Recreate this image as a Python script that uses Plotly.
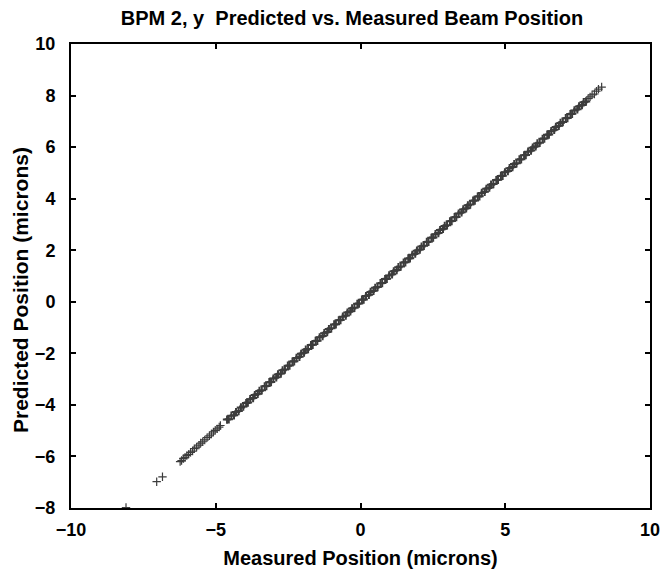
import plotly.graph_objects as go

# Measured (x) and predicted (y) beam positions, microns
# sparse ends of the distribution
measured_sparse = [
    -8.10, -7.04, -6.84,
    -6.23, -6.18, -6.12, -6.06, -6.00, -5.94, -5.87, -5.80, -5.74, -5.66,
    -5.58, -5.52, -5.45, -5.38, -5.30, -5.22, -5.15, -5.08, -5.02, -4.95,
    -4.88, -4.84,
    7.86, 7.93, 8.00, 8.08, 8.15, 8.22, 8.33,
]
predicted_sparse = [
    -7.98, -6.98, -6.79,
    -6.20, -6.16, -6.08, -6.04, -5.97, -5.92, -5.84, -5.79, -5.70, -5.64,
    -5.56, -5.48, -5.43, -5.36, -5.27, -5.20, -5.13, -5.05, -4.99, -4.93,
    -4.86, -4.80,
    7.88, 7.95, 8.03, 8.06, 8.17, 8.25, 8.33,
]
# dense core of the distribution
measured_dense = [
    -4.61, -4.55, -4.46, -4.37, -4.30, -4.21, -4.13, -4.05, -3.95, -3.89,
    -3.81, -3.71, -3.65, -3.55, -3.49, -3.41, -3.31, -3.25, -3.15, -3.09,
    -3.01, -2.91, -2.85, -2.75, -2.69, -2.61, -2.51, -2.45, -2.35, -2.29,
    -2.21, -2.11, -2.05, -1.95, -1.89, -1.81, -1.71, -1.65, -1.55, -1.49,
    -1.41, -1.31, -1.25, -1.15, -1.09, -1.01, -0.91, -0.85, -0.75, -0.69,
    -0.61, -0.51, -0.45, -0.35, -0.29, -0.21, -0.11, -0.05, 0.05, 0.11,
    0.19, 0.29, 0.35, 0.45, 0.51, 0.59, 0.69, 0.75, 0.85, 0.91,
    0.99, 1.09, 1.15, 1.25, 1.31, 1.39, 1.49, 1.55, 1.65, 1.71,
    1.79, 1.89, 1.95, 2.05, 2.11, 2.19, 2.29, 2.35, 2.45, 2.51,
    2.59, 2.69, 2.75, 2.85, 2.91, 2.99, 3.09, 3.15, 3.25, 3.31,
    3.39, 3.49, 3.55, 3.65, 3.71, 3.79, 3.89, 3.95, 4.05, 4.11,
    4.19, 4.29, 4.35, 4.45, 4.51, 4.59, 4.69, 4.75, 4.85, 4.91,
    4.99, 5.09, 5.15, 5.25, 5.31, 5.39, 5.49, 5.55, 5.65, 5.71,
    5.79, 5.89, 5.95, 6.05, 6.11, 6.19, 6.29, 6.35, 6.45, 6.51,
    6.59, 6.69, 6.75, 6.85, 6.91, 6.99, 7.09, 7.15, 7.25, 7.31,
    7.39, 7.49, 7.55, 7.65, 7.71, 7.79,
]
predicted_dense = [
    -4.57, -4.56, -4.42, -4.40, -4.28, -4.24, -4.10, -4.06, -3.93, -3.91,
    -3.78, -3.73, -3.62, -3.57, -3.46, -3.43, -3.28, -3.27, -3.12, -3.11,
    -2.98, -2.93, -2.82, -2.78, -2.66, -2.63, -2.48, -2.47, -2.32, -2.31,
    -2.18, -2.13, -2.02, -1.97, -1.86, -1.83, -1.68, -1.67, -1.52, -1.51,
    -1.38, -1.33, -1.22, -1.17, -1.06, -1.03, -0.88, -0.87, -0.72, -0.71,
    -0.58, -0.53, -0.42, -0.37, -0.26, -0.23, -0.08, -0.07, 0.08, 0.09,
    0.22, 0.27, 0.38, 0.43, 0.54, 0.57, 0.72, 0.73, 0.88, 0.89,
    1.02, 1.07, 1.18, 1.23, 1.34, 1.37, 1.52, 1.53, 1.68, 1.69,
    1.82, 1.87, 1.98, 2.03, 2.14, 2.17, 2.32, 2.33, 2.48, 2.49,
    2.62, 2.67, 2.78, 2.83, 2.94, 2.97, 3.12, 3.13, 3.28, 3.29,
    3.42, 3.47, 3.58, 3.63, 3.74, 3.77, 3.92, 3.93, 4.08, 4.09,
    4.22, 4.27, 4.38, 4.43, 4.54, 4.57, 4.72, 4.73, 4.88, 4.89,
    5.02, 5.07, 5.18, 5.23, 5.34, 5.37, 5.52, 5.53, 5.68, 5.69,
    5.82, 5.87, 5.98, 6.03, 6.14, 6.17, 6.32, 6.33, 6.48, 6.49,
    6.62, 6.67, 6.78, 6.83, 6.94, 6.97, 7.12, 7.13, 7.28, 7.29,
    7.42, 7.47, 7.58, 7.63, 7.74, 7.77,
]

x_ticks = [-10, -5, 0, 5, 10]
y_ticks = [-8, -6, -4, -2, 0, 2, 4, 6, 8, 10]

FONT = "Liberation Sans, Arial, Helvetica, sans-serif"
MARK = "#3c3c3c"

fig = go.Figure()
fig.add_trace(go.Scatter(
    x=measured_dense, y=predicted_dense, mode="markers",
    marker=dict(symbol="cross-thin", size=6, color=MARK,
                line=dict(width=2, color=MARK)),
    showlegend=False, hoverinfo="skip",
))
fig.add_trace(go.Scatter(
    x=measured_sparse, y=predicted_sparse, mode="markers",
    marker=dict(symbol="cross-thin", size=6, color=MARK,
                line=dict(width=1.2, color=MARK)),
    showlegend=False, hoverinfo="skip",
))

axis_common = dict(
    showline=True, mirror="ticks", linecolor="black", linewidth=2,
    ticks="inside", ticklen=5, tickwidth=1.5, tickcolor="black",
    showgrid=False, zeroline=False, automargin=False,
    ticklabeloverflow="allow",
    tickfont=dict(family=FONT, size=18, color="black", weight="bold"),
)
title_font = dict(family=FONT, size=20, color="black", weight="bold")

# plot area in pixels: x 71..650, y 44..508
fig.update_layout(
    width=660, height=572,
    margin=dict(l=71, r=10, t=44, b=64),
    paper_bgcolor="white", plot_bgcolor="white",
    title=dict(text="BPM 2, y &nbsp;Predicted vs. Measured Beam Position",
               x=352 / 660, xanchor="center", y=1 - 18 / 572, yanchor="middle",
               font=title_font),
    xaxis=dict(range=[-10, 10], tickvals=x_ticks, ticklabelstandoff=4,
               title=dict(text="Measured Position (microns)", standoff=12,
                          font=title_font),
               **axis_common),
    yaxis=dict(range=[-8, 10], tickvals=y_ticks, ticklabelstandoff=10,
               **axis_common),
    annotations=[dict(
        text="Predicted Position (microns)", textangle=-90,
        xref="paper", yref="paper",
        x=(20 - 71) / 579, y=(508 - 290) / 464,
        xanchor="center", yanchor="middle", showarrow=False,
        font=dict(family=FONT, size=21, color="black", weight="bold"),
    )],
)

fig.write_html(
    "out.html",
    post_script="document.body.style.margin='0';document.body.style.overflow='hidden';",
)
